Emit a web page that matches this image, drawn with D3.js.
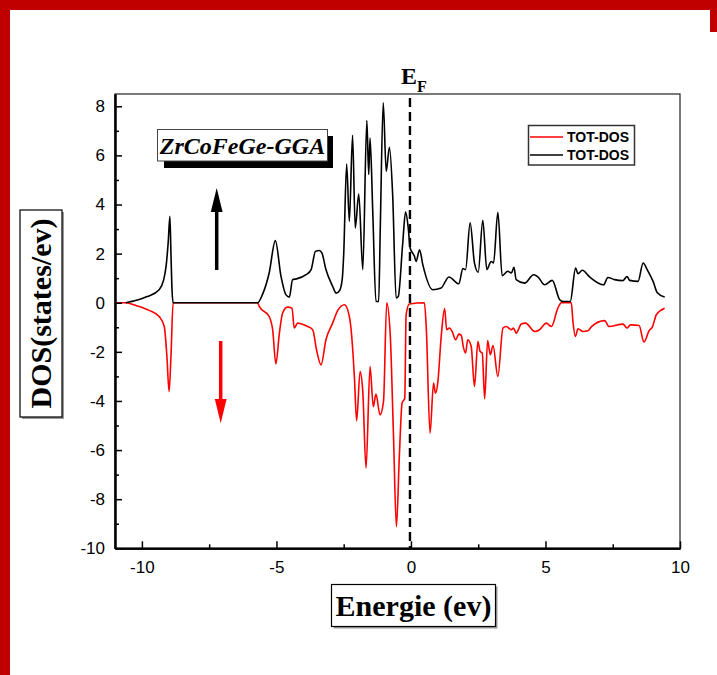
<!DOCTYPE html>
<html>
<head>
<meta charset="utf-8">
<script src="https://cdn.jsdelivr.net/npm/d3@7"></script>
<style>
  body { margin: 0; background: #fff; }
  svg { display: block; }
</style>
</head>
<body>
<svg width="717" height="675"></svg>
<script>
// spin up (black) : energie / dos
const upE = [-10.6, -10.2, -9.8, -9.36, -9.2, -9.1, -9.02, -8.96, -8.92, -8.88, -8.84, -5.70, -5.52, -5.27, -5.04, -4.83, -4.65, -4.52, -4.40, -4.27, -3.90, -3.71, -3.55, -3.41, -3.31, -3.16, -2.91, -2.78, -2.65, -2.55, -2.50, -2.39, -2.29, -2.17, -2.07, -1.94, -1.79, -1.64, -1.57, -1.52, -1.42, -1.30, -1.20, -1.14, -1.03, -0.92, -0.80, -0.68, -0.55, -0.47, -0.31, -0.20, -0.10, -0.03, 0.13, 0.19, 0.32, 0.44, 0.81, 1.12, 1.41, 1.78, 1.93, 2.03, 2.20, 2.36, 2.50, 2.67, 2.82, 2.98, 3.07, 3.23, 3.39, 3.60, 3.73, 3.83, 3.91, 4.22, 4.56, 4.72, 4.97, 5.25, 5.53, 5.65, 5.92, 6.12, 6.21, 6.37, 6.64, 7.16, 7.32, 7.57, 7.88, 8.03, 8.13, 8.44, 8.63, 8.78, 9.00, 9.15, 9.43];
const upDos = [0, 0.1, 0.25, 0.53, 0.9, 1.5, 2.5, 3.52, 2.0, 0.5, 0, 0, 0.33, 1.21, 2.53, 1.07, 0.33, 0.23, 0.94, 0.97, 1.14, 1.35, 2.09, 2.13, 2.03, 1.35, 0.67, 0.39, 0.5, 1.0, 1.96, 5.65, 3.31, 6.82, 3.04, 4.43, 1.35, 7.42, 5.22, 6.71, 3.72, 0.05, 0.05, 3.04, 8.14, 5.35, 6.33, 4.40, 0.19, 0.26, 2.36, 3.70, 3.04, 2.23, 1.89, 1.68, 2.16, 1.55, 0.53, 0.60, 1.05, 0.77, 1.39, 1.35, 3.25, 1.62, 1.24, 3.36, 1.35, 1.68, 1.62, 3.68, 1.10, 1.28, 1.21, 1.44, 0.94, 0.80, 1.14, 1.05, 0.73, 0.91, 0.12, 0.05, 0.05, 1.41, 1.18, 1.32, 1.05, 0.73, 1.03, 0.94, 0.90, 1.07, 0.91, 0.87, 1.62, 1.35, 0.87, 0.42, 0.23];

// spin down (red)
const downE = [-11, -10.6, -10.2, -9.73, -9.36, -9.17, -9.07, -8.99, -8.92, -8.84, -5.70, -5.64, -5.27, -5.14, -5.02, -4.89, -4.77, -4.59, -4.42, -4.34, -4.21, -3.90, -3.65, -3.51, -3.34, -3.16, -2.91, -2.72, -2.47, -2.29, -2.23, -2.10, -2.02, -1.89, -1.79, -1.67, -1.52, -1.40, -1.30, -1.15, -1.02, -0.90, -0.77, -0.65, -0.54, -0.43, -0.33, -0.23, -0.18, -0.06, 0.50, 0.57, 0.71, 0.84, 0.91, 1.00, 1.12, 1.25, 1.33, 1.43, 1.53, 1.66, 1.78, 1.87, 1.95, 2.03, 2.11, 2.24, 2.36, 2.49, 2.57, 2.65, 2.74, 2.85, 2.95, 3.05, 3.23, 3.42, 3.54, 3.73, 3.81, 3.91, 4.10, 4.26, 4.60, 4.78, 5.03, 5.22, 5.46, 5.59, 5.96, 6.02, 6.11, 6.21, 6.39, 6.58, 6.71, 7.20, 7.36, 7.88, 8.03, 8.16, 8.48, 8.66, 8.85, 8.98, 9.12, 9.43];
const downDos = [0, 0, -0.12, -0.31, -0.56, -0.97, -2.19, -3.62, -2.19, 0, 0, -0.15, -0.56, -1.10, -2.49, -1.24, -0.42, -0.18, -0.22, -1.03, -0.83, -0.94, -1.10, -1.92, -2.53, -1.51, -0.83, -0.31, -0.08, -0.56, -1.03, -3.07, -4.81, -2.80, -3.62, -6.74, -2.60, -4.23, -3.72, -4.57, -4.02, 0, -1.30, -5.38, -9.12, -6.20, -4.09, -3.89, -0.49, -0.05, 0, -1.03, -5.31, -3.27, -3.68, -3.23, -1.44, -0.24, -1.10, -1.03, -1.17, -1.51, -1.28, -1.33, -1.82, -2.05, -1.51, -1.78, -3.41, -1.58, -1.98, -2.05, -3.91, -1.54, -2.12, -1.74, -3.00, -1.03, -0.97, -1.10, -1.03, -1.24, -0.87, -0.83, -1.17, -1.10, -0.83, -0.97, -0.22, 0, 0, -0.76, -1.37, -1.06, -1.17, -1.14, -0.97, -0.73, -0.97, -0.87, -1.03, -0.90, -0.93, -1.60, -1.14, -0.97, -0.49, -0.22];

const xTicks = [-10, -5, 0, 5, 10];
const xMinor = [-7.5, -2.5, 2.5, 7.5];
const yTicks = [-10, -8, -6, -4, -2, 0, 2, 4, 6, 8];
const yMinor = [-9, -7, -5, -3, -1, 1, 3, 5, 7];
const legendItems = [
  { label: "TOT-DOS", color: "#ff0000" },
  { label: "TOT-DOS", color: "#000000" }
];

const svg = d3.select("svg");
const W = 717, H = 675;
const mLeft = 115, mRight = 680, mTop = 94, mBottom = 548.3;

svg.append("rect").attr("width", W).attr("height", H).attr("fill", "#fff");

// cadre rouge
svg.append("rect").attr("x", 0).attr("y", 0).attr("width", W).attr("height", 10).attr("fill", "#c00000");
svg.append("rect").attr("x", 0).attr("y", 0).attr("width", 10).attr("height", H).attr("fill", "#c00000");
svg.append("rect").attr("x", 710).attr("y", 0).attr("width", 7).attr("height", 32).attr("fill", "#c00000");

const x = d3.scaleLinear().domain([-11, 10]).range([mLeft, mRight]);
const y = d3.scaleLinear().domain([-10, 8.5]).range([mBottom, mTop]);

// courbes
const line = d3.line()
    .x(d => x(d[0]))
    .y(d => y(d[1]))
    .curve(d3.curveMonotoneX);

const downData = downE.map((e, i) => [e, downDos[i]]);
const upData = upE.map((e, i) => [e, upDos[i]]);

svg.append("path")
    .datum(downData)
    .attr("d", line)
    .attr("fill", "none")
    .attr("stroke", "#ff0000")
    .attr("stroke-width", 1.6)
    .attr("stroke-linejoin", "round");

svg.append("path")
    .datum(upData)
    .attr("d", line)
    .attr("fill", "none")
    .attr("stroke", "#000")
    .attr("stroke-width", 1.6)
    .attr("stroke-linejoin", "round");

// niveau de Fermi
svg.append("line")
    .attr("x1", x(0) - 1).attr("x2", x(0) - 1)
    .attr("y1", mTop + 4).attr("y2", mBottom)
    .attr("stroke", "#000")
    .attr("stroke-width", 2.4)
    .attr("stroke-dasharray", "9,5");

// cadre du graphe
svg.append("rect")
    .attr("x", mLeft).attr("y", mTop)
    .attr("width", mRight - mLeft).attr("height", mBottom - mTop)
    .attr("fill", "none")
    .attr("stroke", "#222")
    .attr("stroke-width", 1.2);

// axes (labels with plain hyphen)
const fmt = d => String(d);
svg.append("g")
    .attr("transform", `translate(0,${mBottom})`)
    .call(d3.axisBottom(x).tickValues(xTicks).tickFormat(fmt).tickSize(-7).tickPadding(13).tickSizeOuter(0));
svg.append("g")
    .attr("transform", `translate(0,${mBottom})`)
    .call(d3.axisBottom(x).tickValues(xMinor).tickSize(-4).tickFormat("").tickSizeOuter(0));
svg.append("g")
    .attr("transform", `translate(${mLeft},0)`)
    .call(d3.axisLeft(y).tickValues(yTicks).tickFormat(fmt).tickSize(-7).tickPadding(10).tickSizeOuter(0));
svg.append("g")
    .attr("transform", `translate(${mLeft},0)`)
    .call(d3.axisLeft(y).tickValues(yMinor).tickSize(-4).tickFormat("").tickSizeOuter(0));

svg.selectAll(".domain").attr("stroke", "#000").attr("stroke-width", 2);
svg.selectAll(".tick line").attr("stroke", "#000").attr("stroke-width", 1.5);
svg.selectAll(".tick text")
    .attr("font-family", "'Liberation Sans', Arial, sans-serif")
    .attr("font-size", 17)
    .attr("fill", "#000");

// titre du composé
svg.append("rect").attr("x", 164).attr("y", 136).attr("width", 169).attr("height", 32).attr("fill", "#000");
svg.append("rect").attr("x", 157.5).attr("y", 129.5).attr("width", 170).attr("height", 31.5)
    .attr("fill", "#fff").attr("stroke", "#444").attr("stroke-width", 1);
svg.append("text")
    .attr("x", 242.5).attr("y", 154)
    .attr("text-anchor", "middle")
    .attr("font-family", "'Liberation Serif', 'Times New Roman', serif")
    .attr("font-weight", "bold")
    .attr("font-style", "italic")
    .attr("font-size", 24)
    .text("ZrCoFeGe-GGA");

// flèches de spin
svg.append("line").attr("x1", 216.7).attr("x2", 216.7).attr("y1", 270).attr("y2", 210)
    .attr("stroke", "#000").attr("stroke-width", 3.5);
svg.append("path").attr("d", "M210.8,212L222.6,212L216.7,188Z").attr("fill", "#000");
svg.append("line").attr("x1", 220.7).attr("x2", 220.7).attr("y1", 341).attr("y2", 401)
    .attr("stroke", "#ff0000").attr("stroke-width", 3.5);
svg.append("path").attr("d", "M214.8,399L226.6,399L220.7,423.3Z").attr("fill", "#ff0000");

// légende
const lg = svg.append("g");
lg.append("rect").attr("x", 528.5).attr("y", 125.5).attr("width", 106).attr("height", 39.5)
    .attr("fill", "#fff").attr("stroke", "#333").attr("stroke-width", 1.5);
legendItems.forEach((d, i) => {
    const ly = 137 + i * 18;
    lg.append("line").attr("x1", 530).attr("x2", 563).attr("y1", ly).attr("y2", ly)
        .attr("stroke", d.color).attr("stroke-width", 1.6);
    lg.append("text").attr("x", 567).attr("y", ly + 5)
        .attr("font-family", "'Liberation Sans', Arial, sans-serif")
        .attr("font-weight", "bold").attr("font-size", 14)
        .text(d.label);
});

// E_F
const ef = svg.append("text")
    .attr("x", 401).attr("y", 84)
    .attr("font-family", "'Liberation Serif', 'Times New Roman', serif")
    .attr("font-weight", "bold")
    .attr("font-size", 24);
ef.append("tspan").text("E");
ef.append("tspan").attr("dy", 8).attr("font-size", 16).text("F");

// titres des axes
svg.append("rect").attr("x", 333.5).attr("y", 586.5).attr("width", 164).attr("height", 42).attr("fill", "#999");
svg.append("rect").attr("x", 331.5).attr("y", 584.5).attr("width", 164).attr("height", 42)
    .attr("fill", "#fff").attr("stroke", "#000").attr("stroke-width", 1.2);
svg.append("text")
    .attr("x", 413.5).attr("y", 616)
    .attr("text-anchor", "middle")
    .attr("font-family", "'Liberation Serif', 'Times New Roman', serif")
    .attr("font-weight", "bold")
    .attr("font-size", 30)
    .text("Energie (ev)");

svg.append("rect").attr("x", 22).attr("y", 212).attr("width", 42).attr("height", 207).attr("fill", "#999");
svg.append("rect").attr("x", 20).attr("y", 210).attr("width", 42).attr("height", 207)
    .attr("fill", "#fff").attr("stroke", "#000").attr("stroke-width", 1.2);
svg.append("text")
    .attr("transform", "translate(51,313.5) rotate(-90)")
    .attr("text-anchor", "middle")
    .attr("font-family", "'Liberation Serif', 'Times New Roman', serif")
    .attr("font-weight", "bold")
    .attr("font-size", 30)
    .text("DOS(states/ev)");
</script>
</body>
</html>
